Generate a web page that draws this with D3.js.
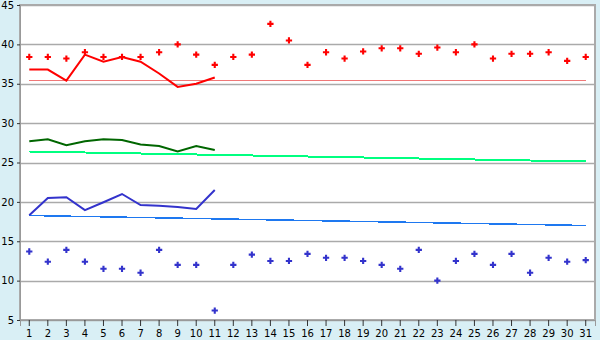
<!DOCTYPE html>
<html>
<head>
<meta charset="utf-8">
<script src="https://cdn.jsdelivr.net/npm/d3@7"></script>
<style>
body { margin: 0; background: #d9eff5; }
text { font-family: "DejaVu Sans", Verdana, sans-serif; font-size: 10px; fill: #000; }
</style>
</head>
<body>
<div id="chart"></div>
<script>
const days = d3.range(1, 32)

// red series
const redPoints = [38.4, 38.4, 38.2, 39.0, 38.4, 38.4, 38.4, 39.0, 40.0, 38.7, 37.4, 38.4, 38.7, 42.6, 40.5, 37.4,
	39.0, 38.2, 39.1, 39.5, 39.5, 38.8, 39.6, 39.0, 40.0, 38.2, 38.8, 38.8, 39.0, 37.9, 38.4]
const redLine = [36.8, 36.8, 35.4, 38.7, 37.8, 38.4, 37.8, 36.3, 34.6, 35.0, 35.8]
const redTrend = [35.5, 35.5]

// green series
const greenLine = [27.7, 27.95, 27.2, 27.7, 27.95, 27.85, 27.3, 27.1, 26.4, 27.1, 26.6]
const greenTrend = [26.4, 25.2]

// blue series
const blueLine = [18.3, 20.5, 20.6, 18.95, 19.95, 21.0, 19.6, 19.5, 19.35, 19.1, 21.5]
const blueTrend = [18.3, 17.1]
const bluePoints = [13.7, 12.4, 13.9, 12.4, 11.5, 11.5, 11.0, 13.9, 12.0, 12.0, 6.2, 12.0, 13.3, 12.5, 12.5, 13.4,
	12.9, 12.9, 12.5, 12.0, 11.5, 13.9, 10.0, 12.5, 13.4, 12.0, 13.4, 11.0, 12.9, 12.4, 12.6]

const yTicks = [5, 10, 15, 20, 25, 30, 35, 40, 45]

const width = 600
const height = 340
const margin = {left: 20, right: 5, top: 5, bottom: 20}

const svg = d3.select('#chart')
	.append('svg')
	.attr('width', width)
	.attr('height', height)

const xScale = d3.scaleBand()
	.domain(days)
	.range([margin.left, width - margin.right])

const yScale = d3.scaleLinear()
	.domain([5, 45])
	.range([height - margin.bottom, margin.top])

const xc = d => xScale(d) + xScale.bandwidth() / 2

// plot area
svg.append('rect')
	.attr('x', margin.left)
	.attr('y', margin.top)
	.attr('width', width - margin.left - margin.right)
	.attr('height', height - margin.top - margin.bottom)
	.attr('fill', 'white')
	.attr('stroke', '#aaa')
	.attr('stroke-width', 1.5)
	.attr('shape-rendering', 'crispEdges')

// grid
svg.selectAll('.grid')
	.data(yTicks)
	.enter()
	.append('line')
	.attr('x1', margin.left)
	.attr('x2', width - margin.right)
	.attr('y1', d => Math.round(yScale(d)) + 0.5)
	.attr('y2', d => Math.round(yScale(d)) + 0.5)
	.attr('stroke', '#aaa')
	.attr('stroke-width', 1.5)

// axes
const xAxis = svg.append('g')
	.attr('transform', `translate(0,${height - margin.bottom})`)
	.call(d3.axisBottom(xScale).tickSize(6).tickPadding(4))
xAxis.select('.domain').attr('stroke', '#999')
xAxis.selectAll('line').attr('stroke', '#333')
xAxis.selectAll('text').style('font-size', '10px')

const yAxis = svg.append('g')
	.attr('transform', `translate(${margin.left},0)`)
	.call(d3.axisLeft(yScale).tickValues(yTicks).tickSize(3).tickPadding(3))
yAxis.select('.domain').attr('stroke', '#999')
yAxis.selectAll('line').attr('stroke', '#333')
yAxis.selectAll('text').style('font-size', '10px')

// trend lines
function addTrend(vals, color, w){
	svg.append('line')
		.attr('x1', xc(1))
		.attr('x2', xc(31))
		.attr('y1', Math.round(yScale(vals[0])) + 0.5)
		.attr('y2', Math.round(yScale(vals[1])) + 0.5)
		.attr('stroke', color)
		.attr('stroke-width', w)
		.attr('shape-rendering', 'crispEdges')
}
addTrend(redTrend, '#f07878', 1)
addTrend(greenTrend, '#00ff80', 2)
addTrend(blueTrend, '#1e78f0', 1.5)

// lines
const pathGeneration = d3.line()
	.x((d, i) => xc(days[i]))
	.y(d => yScale(d))

function addLine(vals, color){
	svg.append('path')
		.datum(vals)
		.attr('d', pathGeneration)
		.attr('stroke', color)
		.attr('stroke-width', 2)
		.attr('fill', 'none')
}
addLine(redLine, '#ff0000')
addLine(greenLine, '#006600')
addLine(blueLine, '#3333cc')

// markers
const cross = d3.symbol().type(d3.symbolCross).size(22)

function addPoints(vals, color){
	svg.selectAll(null)
		.data(vals)
		.enter()
		.append('path')
		.attr('d', cross)
		.attr('transform', (d, i) => `translate(${xc(days[i])},${yScale(d)})`)
		.attr('fill', color)
}
addPoints(redPoints, '#ff0000')
addPoints(bluePoints, '#3333cc')
</script>
</body>
</html>
